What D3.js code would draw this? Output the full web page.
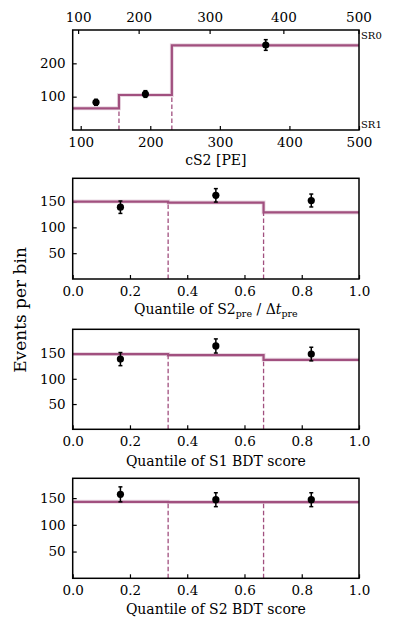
<!DOCTYPE html>
<html>
<head>
<meta charset="utf-8">
<script src="https://cdn.jsdelivr.net/npm/d3@7"></script>
<style>
body { margin: 0; background: #fff; }
text { font-family: "DejaVu Serif", serif; fill: #000; }
</style>
</head>
<body>
<div id="plot"></div>
<script>
// ---- data ----
var cs2Edges = [88.5, 155, 231, 500];
var cs2Model = [65, 105, 254];
var cs2Centers = [122, 193, 366];
var cs2Obs = [83, 108, 255];
var cs2Err = [9, 10, 16];
var cs2Ticks = [100, 200, 300, 400, 500];
// SR0 cS2 tick values and where they land on the SR1 axis
var sr0Ticks = [100, 200, 300, 400, 500];
var sr0AtSr1 = [97, 184, 286, 392, 500];

var qEdges = [0, 1/3, 2/3, 1];
var qCenters = [1/6, 1/2, 5/6];
var qTicks = [0, 0.2, 0.4, 0.6, 0.8, 1.0];

var driftModel = [150, 148, 129];
var driftObs = [139, 162, 152];
var driftErr = [12, 13, 12.5];

var s1Model = [149, 147, 137.5];
var s1Obs = [139, 165, 149];
var s1Err = [13, 14, 13.5];

var s2Model = [143, 142.5, 142.5];
var s2Obs = [157, 147, 147];
var s2Err = [14, 13, 13];

var col = "#a1507f";

var W = 395, H = 629;
var left = 72.7, right = 359;

var svg = d3.select("#plot").append("svg")
	.attr("width", W)
	.attr("height", H);

function panel(opt) {
	var x = d3.scaleLinear().domain(opt.xdom).range([left, right]);
	var y = d3.scaleLinear().domain(opt.ydom).range([opt.bottom, opt.top]);
	var g = svg.append("g");

	// bottom axis
	var ax = g.append("g")
		.attr("transform", "translate(0," + opt.bottom + ")")
		.call(d3.axisBottom(x).tickValues(opt.xticks).tickSizeInner(-4).tickSizeOuter(0).tickPadding(7)
			.tickFormat(opt.xfmt));
	ax.select(".domain").remove();
	ax.selectAll("text").style("font-size", "13.5px").style("font-family", "DejaVu Serif");
	ax.selectAll("line").attr("stroke-width", 1.2);

	var ay = g.append("g")
		.attr("transform", "translate(" + left + ",0)")
		.call(d3.axisLeft(y).tickValues(opt.yticks).tickSizeInner(-4).tickSizeOuter(0).tickPadding(7));
	ay.select(".domain").remove();
	ay.selectAll("text").style("font-size", "13.5px").style("font-family", "DejaVu Serif");
	ay.selectAll("line").attr("stroke-width", 1.2);

	// dashed bin boundaries
	for (var i = 1; i < opt.edges.length - 1; i++) {
		var lo = Math.min(opt.model[i - 1], opt.model[i]);
		g.append("line")
			.attr("x1", x(opt.edges[i])).attr("x2", x(opt.edges[i]))
			.attr("y1", y(opt.ydom[0])).attr("y2", y(lo))
			.attr("stroke", col).attr("stroke-width", 1.3)
			.attr("stroke-dasharray", "4.5,2.5");
	}

	// step histogram
	var pts = [];
	opt.model.forEach(function(m, i) {
		pts.push([opt.edges[i], m]);
		pts.push([opt.edges[i + 1], m]);
	});
	var line = d3.line().x(function(d) { return x(d[0]); }).y(function(d) { return y(d[1]); });
	g.append("path").datum(pts).attr("d", line)
		.attr("fill", "none").attr("stroke", col).attr("stroke-opacity", 0.22).attr("stroke-width", 4);
	g.append("path").datum(pts).attr("d", line)
		.attr("fill", "none").attr("stroke", col).attr("stroke-width", 2.2);

	// data points
	opt.centers.forEach(function(c, i) {
		var cx = x(c);
		g.append("line")
			.attr("x1", cx).attr("x2", cx)
			.attr("y1", y(opt.obs[i] - opt.err[i])).attr("y2", y(opt.obs[i] + opt.err[i]))
			.attr("stroke", "black").attr("stroke-width", 1.5);
		[-1, 1].forEach(function(s) {
			var yy = y(opt.obs[i] + s * opt.err[i]);
			g.append("line").attr("x1", cx - 2).attr("x2", cx + 2)
				.attr("y1", yy).attr("y2", yy)
				.attr("stroke", "black").attr("stroke-width", 1.5);
		});
		g.append("circle").attr("cx", cx).attr("cy", y(opt.obs[i])).attr("r", 3.6)
			.attr("fill", "black");
	});

	// frame
	g.append("rect")
		.attr("x", left).attr("y", opt.top)
		.attr("width", right - left).attr("height", opt.bottom - opt.top)
		.attr("fill", "none").attr("stroke", "black").attr("stroke-width", 1.5);

	return {x: x, y: y, g: g};
}

// ---- panel 1: cS2 ----
var p1 = panel({
	xdom: [88.5, 500], ydom: [0, 300], top: 30, bottom: 130,
	xticks: cs2Ticks, yticks: [100, 200], xfmt: d3.format("d"),
	edges: cs2Edges, model: cs2Model, centers: cs2Centers, obs: cs2Obs, err: cs2Err
});

// top axis for SR0 cS2
var topG = p1.g.append("g");
sr0Ticks.forEach(function(t, i) {
	var px = p1.x(sr0AtSr1[i]);
	topG.append("line").attr("x1", px).attr("x2", px).attr("y1", 30).attr("y2", 34)
		.attr("stroke", "black").attr("stroke-width", 1.2);
	topG.append("text").attr("x", px).attr("y", 21.5).attr("text-anchor", "middle")
		.style("font-size", "13.5px").text(t);
});
p1.g.append("text").attr("x", 361).attr("y", 39).style("font-size", "10px").text("SR0");
p1.g.append("text").attr("x", 361).attr("y", 128).style("font-size", "10px").text("SR1");
svg.append("text").attr("x", (left + right) / 2).attr("y", 164.5).attr("text-anchor", "middle")
	.style("font-size", "14px").text("cS2 [PE]");

// ---- panel 2: S2pre / dt ----
panel({
	xdom: [0, 1], ydom: [0, 195], top: 178.3, bottom: 279,
	xticks: qTicks, yticks: [50, 100, 150], xfmt: d3.format(".1f"),
	edges: qEdges, model: driftModel, centers: qCenters, obs: driftObs, err: driftErr
});
var t2 = svg.append("text").attr("x", (left + right) / 2).attr("y", 313.5).attr("text-anchor", "middle")
	.style("font-size", "14px");
t2.append("tspan").text("Quantile of S2");
t2.append("tspan").attr("dy", 3).style("font-size", "9.5px").text("pre");
t2.append("tspan").attr("dy", -3).text(" / Δ");
t2.append("tspan").style("font-style", "italic").text("t");
t2.append("tspan").attr("dy", 3).style("font-size", "9.5px").text("pre");

// ---- panel 3: S1 BDT ----
panel({
	xdom: [0, 1], ydom: [0, 198], top: 329.3, bottom: 429.3,
	xticks: qTicks, yticks: [50, 100, 150], xfmt: d3.format(".1f"),
	edges: qEdges, model: s1Model, centers: qCenters, obs: s1Obs, err: s1Err
});
svg.append("text").attr("x", (left + right) / 2).attr("y", 466).attr("text-anchor", "middle")
	.style("font-size", "14px").text("Quantile of S1 BDT score");

// ---- panel 4: S2 BDT ----
panel({
	xdom: [0, 1], ydom: [0, 187], top: 478.3, bottom: 578.3,
	xticks: qTicks, yticks: [50, 100, 150], xfmt: d3.format(".1f"),
	edges: qEdges, model: s2Model, centers: qCenters, obs: s2Obs, err: s2Err
});
svg.append("text").attr("x", (left + right) / 2).attr("y", 614).attr("text-anchor", "middle")
	.style("font-size", "14px").text("Quantile of S2 BDT score");

// shared y label
svg.append("text")
	.attr("transform", "translate(26,310) rotate(-90)")
	.attr("text-anchor", "middle")
	.style("font-size", "17px")
	.text("Events per bin");
</script>
</body>
</html>
